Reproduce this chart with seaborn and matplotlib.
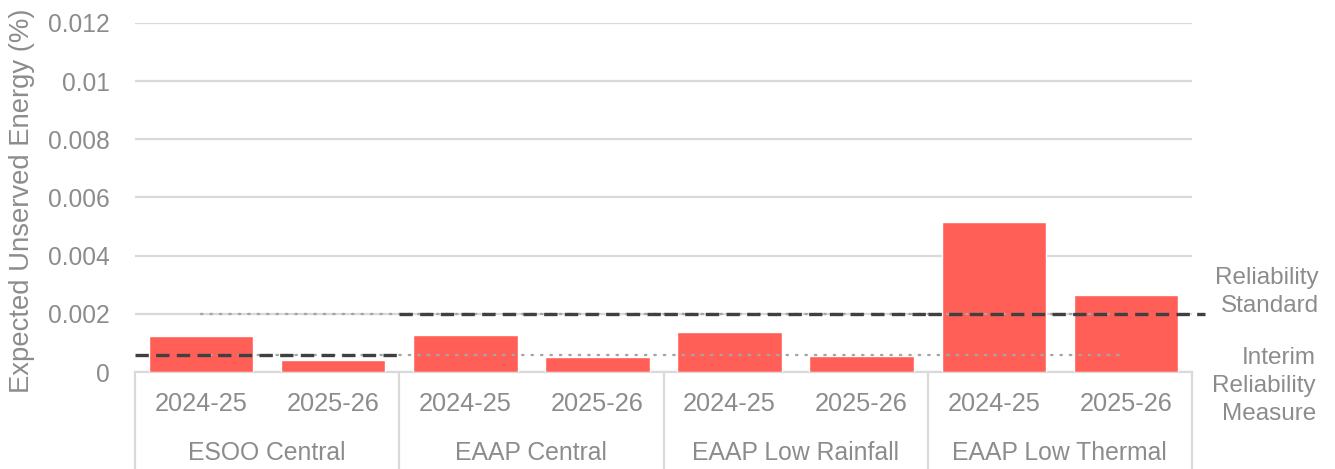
import matplotlib
matplotlib.use("Agg")
import matplotlib.pyplot as plt
import matplotlib.transforms as mtransforms
import pandas as pd
import seaborn as sns

# Scenarios and study years
scenarios = ["ESOO Central", "EAAP Central", "EAAP Low Rainfall", "EAAP Low Thermal"]
years = ["2024-25", "2025-26"]

# Expected unserved energy (% of demand), per scenario and year
use_values = [0.00123, 0.00040,
              0.00128, 0.00050,
              0.00138, 0.00055,
              0.00515, 0.00266]

# Reliability thresholds (%)
reliability_standard = 0.002
interim_measure = 0.0006
# Threshold that applies to each scenario
applicable_threshold = [0.0006, 0.002, 0.002, 0.002]

y_ticks = [0, 0.002, 0.004, 0.006, 0.008, 0.010, 0.012]
y_tick_labels = ["0", "0.002", "0.004", "0.006", "0.008", "0.01", "0.012"]

BAR = "#FF5F57"
TEXT = "#8C8C8C"
GRID = "#D9D9D9"
DASH = "#404040"
DOT = "#A6A6A6"

sns.set_theme(style="white")
plt.rcParams["font.family"] = ["Liberation Sans", "DejaVu Sans"]

df = pd.DataFrame({
    "slot": [f"{s}|{y}" for s in scenarios for y in years],
    "use": use_values,
})

W, H = 1335, 469
fig = plt.figure(figsize=(W / 100, H / 100), dpi=100)
ax = fig.add_axes([135 / W, 1 - 372 / H, (1192 - 135) / W, (372 - 23) / H])

sns.barplot(data=df, x="slot", y="use", color=BAR, width=0.79,
            saturation=1, ax=ax, zorder=3)

n = len(df)
ax.set_xlim(-0.5, n - 0.5)
ax.set_ylim(0, 0.012)
ax.set_yticks(y_ticks)
ax.set_yticklabels(y_tick_labels)
ax.tick_params(axis="y", length=0, labelsize=17.7, labelcolor=TEXT, pad=18)
ax.set_xticks([])
ax.set_xlabel("")
ax.set_ylabel("")
fig.text(22 / W, 1 - 201 / H, "Expected Unserved Energy (%)", rotation=90,
         ha="center", va="center", fontsize=19.8, color=TEXT)
ax.yaxis.grid(True, color=GRID, linewidth=1.6, zorder=0)
ax.set_axisbelow(True)
for side in ["left", "right", "top"]:
    ax.spines[side].set_visible(False)
ax.spines["bottom"].set_color(GRID)
ax.spines["bottom"].set_linewidth(1.6)

# Thresholds drawn across the bar centres
ax.plot([0, n - 1], [reliability_standard] * 2, color=DOT, lw=1.7,
        linestyle=(0, (0.6, 3.4)), dash_capstyle="round", zorder=4)
ax.plot([0, n - 1], [interim_measure] * 2, color=DOT, lw=1.7,
        linestyle=(0, (0.6, 3.4)), dash_capstyle="round", zorder=4)

# Threshold applicable to each scenario
for i, thr in enumerate(applicable_threshold):
    x0 = 2 * i - 0.5
    x1 = 2 * i + 1.5 if i < len(applicable_threshold) - 1 else n - 0.4
    ax.plot([x0, x1], [thr, thr], color=DASH, lw=2.4,
            linestyle=(0, (4.0, 2.2)), zorder=5, clip_on=False)

# Two-level category axis
trans = mtransforms.blended_transform_factory(ax.transData, fig.transFigure)
for i, s in enumerate(scenarios):
    for j, y in enumerate(years):
        ax.text(2 * i + j, 1 - 404 / H, y, transform=trans, ha="center",
                va="center", fontsize=18.3, color=TEXT)
    ax.text(2 * i + 0.5, 1 - 453 / H, s, transform=trans, ha="center",
            va="center", fontsize=17.8, color=TEXT)
for k in range(len(scenarios) + 1):
    xb = 2 * k - 0.5
    ax.plot([xb, xb], [1 - 372 / H, 0], transform=trans, color=GRID,
            lw=1.6, clip_on=False)

# Threshold labels on the right
fig.text(1319 / W, 1 - 292 / H, "Reliability\nStandard", ha="right",
         va="center", fontsize=17.5, color=TEXT, multialignment="right",
         linespacing=1.36)
fig.text(1316 / W, 1 - 386 / H, "Interim\nReliability\nMeasure", ha="right",
         va="center", fontsize=17.5, color=TEXT, multialignment="right",
         linespacing=1.36)

fig.savefig("out.png", dpi=100, facecolor="white")
